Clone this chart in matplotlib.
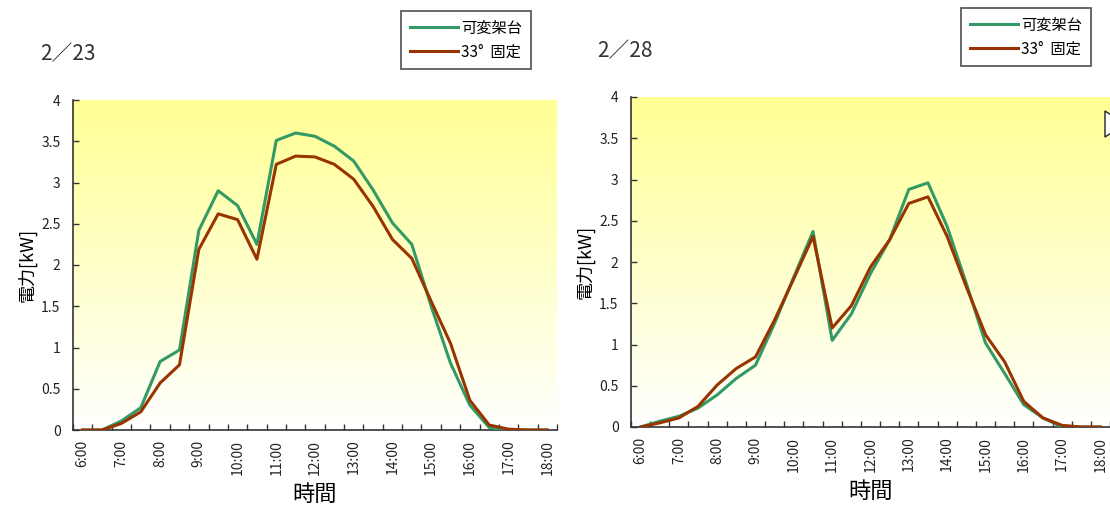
import numpy as np
import matplotlib.pyplot as plt
from matplotlib.patches import Polygon

plt.rcParams['font.family'] = ['Noto Sans CJK JP', 'DejaVu Sans']

# 30-minute categories, 6:00 .. 18:00
times = ['6:00', '6:30', '7:00', '7:30', '8:00', '8:30', '9:00', '9:30',
         '10:00', '10:30', '11:00', '11:30', '12:00', '12:30', '13:00', '13:30',
         '14:00', '14:30', '15:00', '15:30', '16:00', '16:30', '17:00', '17:30', '18:00']

# 2/23
var_0223 = [0, 0, 0.11, 0.27, 0.83, 0.97, 2.42, 2.90, 2.72, 2.25, 3.51, 3.60, 3.56,
            3.44, 3.26, 2.91, 2.51, 2.25, 1.50, 0.81, 0.30, 0.03, 0, 0, 0]
fix_0223 = [0, 0, 0.08, 0.22, 0.57, 0.79, 2.19, 2.62, 2.55, 2.07, 3.22, 3.32, 3.31,
            3.22, 3.04, 2.71, 2.31, 2.08, 1.56, 1.05, 0.36, 0.06, 0.01, 0, 0]

# 2/28
var_0228 = [0, 0.07, 0.13, 0.23, 0.39, 0.59, 0.75, 1.26, 1.82, 2.37, 1.05, 1.37, 1.86,
            2.27, 2.88, 2.96, 2.43, 1.74, 1.02, 0.65, 0.27, 0.11, 0, 0, 0]
fix_0228 = [0, 0.05, 0.11, 0.25, 0.51, 0.71, 0.85, 1.30, 1.80, 2.31, 1.20, 1.47, 1.94,
            2.27, 2.71, 2.79, 2.31, 1.70, 1.12, 0.79, 0.31, 0.11, 0.02, 0, 0]

yticks = [0, 0.5, 1, 1.5, 2, 2.5, 3, 3.5, 4]
ylabels = ['0', '0.5', '1', '1.5', '2', '2.5', '3', '3.5', '4']

series_names = ['可変架台', '33°  固定']
green = '#339966'
brown = '#993300'

W, H = 1110, 516
fig = plt.figure(figsize=(W / 100, H / 100), dpi=100)

def px(x0, y0, x1, y1):
    # pixel box (top-left origin) -> figure fraction rect
    return [x0 / W, 1 - y1 / H, (x1 - x0) / W, (y1 - y0) / H]

grad = np.linspace(1, 0, 256).reshape(-1, 1)
top = np.array([1.0, 1.0, 0.58])
bot = np.array([1.0, 1.0, 1.0])
grad_img = bot + (top - bot) * grad[..., None]

def make_panel(rect, title, title_xy, legend_xy, v1, v2):
    ax = fig.add_axes(rect)
    ax.imshow(grad_img, extent=[0, 1, 0, 1], transform=ax.transAxes,
              aspect='auto', zorder=0)
    x = np.arange(len(times))
    l1, = ax.plot(x, v1, color=green, lw=2.2, zorder=3)
    l2, = ax.plot(x, v2, color=brown, lw=2.2, zorder=4)
    ax.set_xlim(-0.5, len(times) - 0.5)
    ax.set_ylim(0, 4)
    ax.set_xticks(x[::2])
    ax.set_xticklabels(times[::2], rotation=90, fontsize=10, color='#222222')
    ax.set_xticks(np.arange(len(times) + 1) - 0.5, minor=True)
    ax.tick_params(axis='x', which='major', length=0, pad=7)
    ax.tick_params(axis='x', which='minor', direction='in', length=4, width=1, color='#333333')
    ax.set_yticks(yticks)
    ax.set_yticklabels(ylabels, fontsize=10, color='#222222')
    ax.tick_params(axis='y', direction='in', length=4, width=1, color='#333333', pad=9)
    for s in ['top', 'right']:
        ax.spines[s].set_visible(False)
    for s in ['left', 'bottom']:
        ax.spines[s].set_color('#333333')
        ax.spines[s].set_linewidth(1.2)
    ax.set_xlabel('時間', fontsize=16, labelpad=6)
    ax.set_ylabel('電力[kW]', fontsize=13, labelpad=3)
    fig.text(title_xy[0] / W, 1 - title_xy[1] / H, title, fontsize=15,
             color='#333333', ha='left', va='center')
    leg = fig.legend([l1, l2], series_names, loc='center',
                     bbox_to_anchor=(legend_xy[0] / W, 1 - legend_xy[1] / H),
                     fontsize=11, frameon=True, fancybox=False, handlelength=3.2,
                     handletextpad=0.2, borderpad=0.55, labelspacing=0.45)
    leg.get_frame().set_edgecolor('#222222')
    leg.get_frame().set_linewidth(1.2)
    return ax

ax1 = make_panel(px(73, 100, 557, 430), '2／23', (40, 54), (466, 40), var_0223, fix_0223)
ax2 = make_panel(px(631, 97, 1110, 427), '2／28', (597, 51), (1026, 37), var_0228, fix_0228)

# partially visible shape at the right edge
tri = Polygon([(1105 / W, 1 - 111 / H), (1105 / W, 1 - 137 / H), (1125 / W, 1 - 124 / H)],
              closed=True, transform=fig.transFigure, facecolor='white',
              edgecolor='#222222', lw=1)
fig.patches.append(tri)

fig.savefig('out.png', dpi=100)
